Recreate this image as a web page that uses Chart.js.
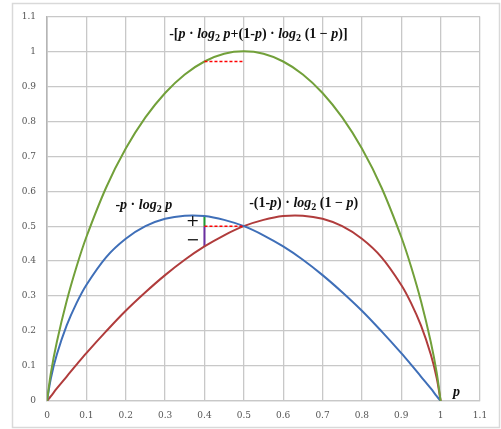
<!DOCTYPE html>
<html>
<head>
<meta charset="utf-8">
<script src="https://cdn.jsdelivr.net/npm/chart.js@4"></script>
<style>
  html, body { margin: 0; padding: 0; background: #fff; }
  #box { width: 501px; height: 429px; position: relative; }
</style>
</head>
<body>
<div id="box"><canvas id="entropy-chart" width="501" height="429"></canvas></div>
<script>
// p values along the x axis
let pValues = [0, 0.01, 0.025, 0.05, 0.075, 0.1, 0.15, 0.2, 0.25, 0.3, 0.35, 0.4, 0.45, 0.5,
               0.55, 0.6, 0.65, 0.7, 0.75, 0.8, 0.85, 0.9, 0.925, 0.95, 0.975, 0.99, 1];

// -p*log2(p)  (blue)
let blueValues = [0, 0.066, 0.133, 0.216, 0.280, 0.332, 0.411, 0.464, 0.500, 0.521, 0.530, 0.529, 0.518, 0.500,
                  0.474, 0.442, 0.404, 0.360, 0.311, 0.258, 0.199, 0.137, 0.104, 0.070, 0.036, 0.014, 0];

// -(1-p)*log2(1-p)  (red)
let redValues = [0, 0.014, 0.036, 0.070, 0.104, 0.137, 0.199, 0.258, 0.311, 0.360, 0.404, 0.442, 0.474, 0.500,
                 0.518, 0.529, 0.530, 0.521, 0.500, 0.464, 0.411, 0.332, 0.280, 0.216, 0.133, 0.066, 0];

// sum of both (green)
let greenValues = [0, 0.081, 0.169, 0.286, 0.384, 0.469, 0.610, 0.722, 0.811, 0.881, 0.934, 0.971, 0.993, 1.000,
                   0.993, 0.971, 0.934, 0.881, 0.811, 0.722, 0.610, 0.469, 0.384, 0.286, 0.169, 0.081, 0];

// marker segments at p = 0.4
let plusSegment = [[0.4, 0.529], [0.4, 0.5]];
let minusSegment = [[0.4, 0.5], [0.4, 0.442]];
let halfDash = [[0.4, 0.5], [0.5, 0.5]];
let topDash = [[0.4, 0.971], [0.5, 0.971]];

// axis ticks
let xTicks = [0, 0.1, 0.2, 0.3, 0.4, 0.5, 0.6, 0.7, 0.8, 0.9, 1, 1.1];
let yTicks = [0, 0.1, 0.2, 0.3, 0.4, 0.5, 0.6, 0.7, 0.8, 0.9, 1, 1.1];

// text labels: [text, p, value]   ("_" marks a subscript char)
let curveLabels = [
    ["-[p \u00b7 log_2 p+(1-p) \u00b7 log_2 (1 \u2212 p)]", 0.537, 1.049],
    ["-p \u00b7 log_2 p", 0.246, 0.559],
    ["-(1-p) \u00b7 log_2 (1 \u2212 p)", 0.652, 0.564],
    ["p", 1.04, 0.026]
];
let signLabels = [["+", 0.37, 0.513], ["\u2212", 0.37, 0.457]];

function toPoints(xs, ys) {
    let pts = [];
    xs.forEach((x, i) => pts.push({x: x, y: ys[i]}));
    return pts;
}
function segPoints(seg) {
    return seg.map(s => ({x: s[0], y: s[1]}));
}

// draw text where lowercase letters are italic and "_x" is a subscript
function drawRich(ctx, str, cx, cy, size) {
    let runs = [];
    for (let i = 0; i < str.length; i++) {
        let ch = str[i];
        let sub = false;
        if (ch === "_") { sub = true; i++; ch = str[i]; }
        let ital = /[a-z]/.test(ch);
        let last = runs[runs.length - 1];
        if (last && last.sub === sub && last.ital === ital) last.t += ch;
        else runs.push({t: ch, sub: sub, ital: ital});
    }
    let fontOf = r => (r.ital ? "italic " : "") + "bold " + (r.sub ? size * 0.72 : size) + "px 'Liberation Serif', serif";
    let total = 0;
    runs.forEach(r => { ctx.font = fontOf(r); r.w = ctx.measureText(r.t).width; total += r.w; });
    let x = cx - total / 2;
    ctx.textBaseline = "middle";
    ctx.textAlign = "left";
    ctx.fillStyle = "#111";
    runs.forEach(r => {
        ctx.font = fontOf(r);
        ctx.fillText(r.t, x, cy + (r.sub ? size * 0.28 : 0));
        x += r.w;
    });
}

const labelPlugin = {
    id: "labels",
    beforeDraw(chart) {
        let ctx = chart.ctx;
        ctx.save();
        ctx.strokeStyle = "#d9d9d9";
        ctx.lineWidth = 1.5;
        ctx.strokeRect(12.5, 3.5, 487, 424);
        ctx.restore();
    },
    afterDatasetsDraw(chart) {
        let ctx = chart.ctx;
        let xs = chart.scales.x, ys = chart.scales.y;
        ctx.save();
        curveLabels.forEach(l => drawRich(ctx, l[0], xs.getPixelForValue(l[1]), ys.getPixelForValue(l[2]), 14));
        ctx.font = "16px 'DejaVu Sans', sans-serif";
        ctx.fillStyle = "#111";
        ctx.textAlign = "center";
        ctx.textBaseline = "middle";
        signLabels.forEach(l => ctx.fillText(l[0], xs.getPixelForValue(l[1]), ys.getPixelForValue(l[2])));
        ctx.restore();
    }
};

function curve(label, data, color) {
    return {label: label, data: data, borderColor: color, backgroundColor: color,
            borderWidth: 2, pointRadius: 0, tension: 0.35, fill: false};
}
function marker(data, color, dash, width) {
    return {data: data, borderColor: color, borderWidth: width, borderDash: dash, pointRadius: 0, fill: false};
}

const ctx = document.getElementById("entropy-chart").getContext("2d");
let myChart = new Chart(ctx, {
    type: "line",
    data: {
        datasets: [
            marker(segPoints(topDash), "#ff0000", [3, 2], 1.5),
            marker(segPoints(halfDash), "#ff0000", [3, 2], 1.5),
            curve("H(p)", toPoints(pValues, greenValues), "#72a03a"),
            curve("-p log2 p", toPoints(pValues, blueValues), "#3f6fb8"),
            curve("-(1-p) log2 (1-p)", toPoints(pValues, redValues), "#b03c3c"),
            marker(segPoints(plusSegment), "#1e9a32", [], 2),
            marker(segPoints(minusSegment), "#6a2fa0", [], 2)
        ]
    },
    options: {
        responsive: false,
        animation: false,
        layout: {padding: {left: 0, right: 21, top: 15, bottom: 0}},
        plugins: {legend: {display: false}, tooltip: {enabled: false}},
        scales: {
            x: {
                type: "linear", min: 0, max: 1.1,
                afterBuildTicks: s => { s.ticks = xTicks.map(v => ({value: v})); },
                afterFit: s => { s.height = 28; },
                grid: {color: "#c8c8c8", lineWidth: 1.3, drawTicks: false},
                border: {color: "#c8c8c8", width: 1.3},
                ticks: {color: "#555", padding: 9, maxRotation: 0,
                        font: {family: "'DejaVu Serif', serif", size: 9},
                        callback: v => String(parseFloat(v.toFixed(1)))}
            },
            y: {
                type: "linear", min: 0, max: 1.1,
                afterBuildTicks: s => { s.ticks = yTicks.map(v => ({value: v})); },
                afterFit: s => { s.width = 47; },
                grid: {color: "#c8c8c8", lineWidth: 1.3, drawTicks: false},
                border: {color: "#b5b5b5", width: 1.6},
                ticks: {color: "#555", padding: 11,
                        font: {family: "'DejaVu Serif', serif", size: 9},
                        callback: v => String(parseFloat(v.toFixed(1)))}
            }
        }
    },
    plugins: [labelPlugin]
});
</script>
</body>
</html>
